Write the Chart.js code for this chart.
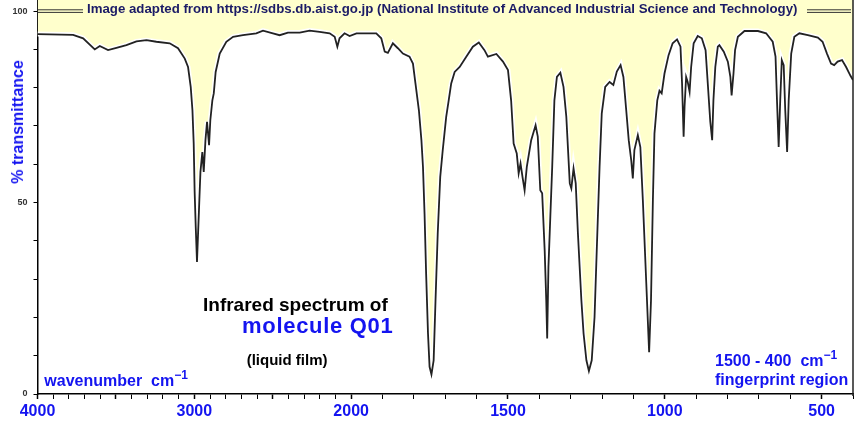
<!DOCTYPE html>
<html>
<head>
<meta charset="utf-8">
<title>IR spectrum Q01</title>
<script src="https://cdn.jsdelivr.net/npm/chart.js@4.4.1/dist/chart.umd.min.js"></script>
<style>
  html, body { margin: 0; padding: 0; background: #fff; }
  #wrap { position: relative; width: 860px; height: 428px; font-family: "Liberation Sans", Arial, sans-serif; font-weight: bold; }
  #wrap canvas { position: absolute; left: 0; top: 0; }
  .lbl { position: absolute; white-space: nowrap; line-height: 1; }
  .sup { position: relative; top: -7px; font-size: 12px; }
</style>
</head>
<body>
<div id="wrap">
  <canvas id="irChart" width="860" height="428"></canvas>
  <div class="lbl" style="left:87px; top:1.5px; font-size:13.25px; color:#1b1b66;">Image adapted from https://sdbs.db.aist.go.jp (National Institute of Advanced Industrial Science and Technology)</div>
  <div class="lbl" style="left:17.5px; top:121.7px; font-size:16px; color:#1414f0; transform:translate(-50%,-50%) rotate(-90deg);">% transmittance</div>
  <div class="lbl" style="left:203px; top:294.6px; font-size:19px; color:#000;">Infrared spectrum of</div>
  <div class="lbl" style="left:242px; top:314.7px; font-size:22px; letter-spacing:0.7px; color:#1414f0;">molecule Q01</div>
  <div class="lbl" style="left:246.7px; top:351.6px; font-size:15px; color:#000;">(liquid film)</div>
  <div class="lbl" style="left:44.3px; top:373.2px; font-size:16px; color:#1414f0;">wavenumber&nbsp; cm<span class="sup">&minus;1</span></div>
  <div class="lbl" style="left:715px; top:353.2px; font-size:16px; color:#1414f0;">1500 - 400&nbsp; cm<span class="sup">&minus;1</span></div>
  <div class="lbl" style="left:715px; top:371.5px; font-size:16px; color:#1414f0;">fingerprint region</div>
</div>
<script>
// spectrum (wavenumber cm-1, % transmittance)
var wavenumbers = [4000,3773,3709,3635,3603,3550,3497,3433,3369,3305,3242,3157,3104,3061,3040,3023,3012,3004,2998,2991,2983,
  2968,2961,2949,2940,2929,2919,2906,2898,2885,2876,2864,2838,2796,2753,2690,2605,2562,2499,2456,2403,2328,2265,2201,2137,2105,
  2088,2074,2042,2010,1983,1920,1904,1893,1883,1867,1851,1835,1814,1803,1795,1784,1776,1771,1766,1761,1755,1750,1744,1737,1731,
  1724,1716,1708,1697,1689,1681,1670,1654,1633,1612,1593,1575,1564,1537,1516,1500,1490,1482,1472,1466,1460,1453,1447,1440,1426,
  1412,1405,1397,1391,1383,1378,1375,1371,1365,1359,1352,1344,1333,1323,1314,1303,1298,1291,1284,1277,1266,1259,1250,1242,1233,
  1224,1217,1208,1201,1190,1176,1164,1153,1141,1132,1123,1115,1107,1102,1097,1086,1078,1070,1059,1050,1044,1038,1033,1024,1017,
  1010,1001,988,975,961,950,945,940,937,932,927,921,916,908,895,882,870,863,855,849,845,839,831,826,812,799,791,787,781,776,767,
  746,703,677,656,647,642,637,632,627,621,616,610,605,597,587,571,544,512,497,483,470,460,449,435,422,408,400];
var transmittance = [94.0,93.8,92.9,90.0,90.9,89.8,90.4,91.1,92.1,92.4,92.0,91.6,90.3,87.6,85.4,80.2,74.1,65.4,52.8,43.6,34.5,
  50.6,58.0,63.2,58.0,66.3,71.1,65.0,71.5,76.7,78.5,84.1,88.9,92.0,93.3,93.7,94.2,94.9,94.2,93.7,94.4,94.4,94.9,94.6,94.2,93.3,
  90.7,92.9,94.2,93.5,94.2,94.2,92.9,89.4,89.1,91.6,90.3,88.9,88.1,86.3,81.1,74.1,66.3,59.3,47.1,31.5,15.8,7.1,5.1,8.8,24.5,
  41.9,56.7,63.7,72.4,76.7,81.1,84.1,85.4,88.1,90.7,91.8,89.8,88.1,88.8,86.8,84.6,76.7,65.4,62.8,57.6,60.2,56.3,53.2,59.3,66.3,
  70.2,67.2,53.2,52.4,37.5,24.5,14.5,33.2,46.3,59.3,76.7,82.8,83.9,80.2,72.4,55.0,53.7,58.9,55.0,41.9,24.5,15.8,8.8,6.0,8.8,
  20.1,37.5,59.3,73.3,80.2,81.5,80.7,84.2,85.9,82.8,74.1,66.3,61.0,56.3,63.7,67.6,64.5,50.6,28.8,10.9,24.5,50.6,68.0,76.7,79.2,
  78.5,83.7,88.5,91.6,92.6,90.7,81.1,67.2,75.0,82.8,81.5,78.9,85.4,91.6,93.5,92.9,89.8,81.1,71.1,66.3,76.7,85.4,90.7,91.1,89.4,86.8,82.8,78.0,83.7,89.8,93.3,
  94.8,94.8,94.2,92.0,88.1,75.9,64.5,76.7,87.2,85.9,74.1,63.2,76.7,88.9,93.3,94.2,93.7,93.1,92.0,88.9,86.3,85.9,86.8,87.2,85.4,83.1,82.0];
var xTickLabels = [4000, 3000, 2000, 1500, 1000, 500];
var yTickLabels = [0, 50, 100];

// the axis is expanded twice below 2000 cm-1
function toAxis(wn) { return wn >= 2000 ? 4000 - wn : 2000 + (2000 - wn) * 2; }
function fromAxis(u) { return u <= 2000 ? 4000 - u : 2000 - (u - 2000) / 2; }

var points = [];
for (var i = 0; i < wavenumbers.length; i++) {
  points.push({ x: toAxis(wavenumbers[i]), y: transmittance[i] });
}
var xTicks = [];
for (var w = 4000; w >= 400; w -= 100) xTicks.push({ value: toAxis(w) });
var yTicks = [];
for (var t = 0; t <= 100; t += 10) yTicks.push({ value: t });

var frame = {
  id: 'frame',
  afterDraw: function (chart) {
    var c = chart.ctx, a = chart.chartArea;
    var y100 = chart.scales.y.getPixelForValue(100);
    c.save();
    c.strokeStyle = '#333';
    c.lineWidth = 1;
    [y100 - 1.3, y100 + 1.3].forEach(function (yy) {
      c.beginPath();
      c.moveTo(a.left, yy); c.lineTo(83, yy);
      c.moveTo(807, yy); c.lineTo(a.right - 2, yy);
      c.stroke();
    });
    c.strokeStyle = '#222';
    c.lineWidth = 1.5;
    c.beginPath();
    c.moveTo(a.right, 0); c.lineTo(a.right, a.bottom + 2);
    c.stroke();
    c.restore();
  }
};

new Chart(document.getElementById('irChart'), {
  type: 'line',
  data: {
    datasets: [
      { data: points, borderColor: '#222', borderWidth: 1.8, pointRadius: 0, tension: 0,
        fill: 'end', backgroundColor: '#ffffcc', order: 1 },
      { data: points, borderColor: '#ffffff', borderWidth: 5, pointRadius: 0, tension: 0,
        fill: false, order: 2 }
    ]
  },
  plugins: [frame],
  options: {
    responsive: false,
    animation: false,
    layout: { padding: { left: 0, right: 7, top: 0, bottom: 0 } },
    plugins: {
      legend: { display: false },
      tooltip: { enabled: false },
      filler: { drawTime: 'beforeDatasetsDraw' }
    },
    scales: {
      x: {
        type: 'linear', min: 0, max: 5200,
        afterBuildTicks: function (s) { s.ticks = xTicks.slice(); },
        afterFit: function (s) { s.height = 34; s.paddingLeft = 0; s.paddingRight = 0; },
        ticks: {
          autoSkip: false, maxRotation: 0, padding: 3, color: '#1414f0',
          font: { family: 'Liberation Sans', size: 16, weight: 'bold' },
          callback: function (v) {
            var wn = Math.round(fromAxis(v));
            return xTickLabels.indexOf(wn) >= 0 ? String(wn) : '';
          }
        },
        grid: { drawOnChartArea: false, tickLength: 5, tickColor: '#000',
          tickWidth: function (ctx) { return ctx.tick && Math.round(fromAxis(ctx.tick.value)) % 500 === 0 ? 1.5 : 1; } },
        border: { color: '#000', width: 1.5 }
      },
      y: {
        min: 0, max: 102.9,
        afterBuildTicks: function (s) { s.ticks = yTicks.slice(); },
        afterFit: function (s) { s.width = 37.5; s.paddingTop = 0; s.paddingBottom = 0; },
        ticks: {
          padding: 6, color: '#333',
          font: { family: 'Liberation Sans', size: 9, weight: 'bold' },
          callback: function (v) { return yTickLabels.indexOf(v) >= 0 ? String(v) : ''; }
        },
        grid: { drawOnChartArea: false, tickLength: 4, tickColor: '#000' },
        border: { color: '#000', width: 1.5 }
      }
    }
  }
});
</script>
</body>
</html>
